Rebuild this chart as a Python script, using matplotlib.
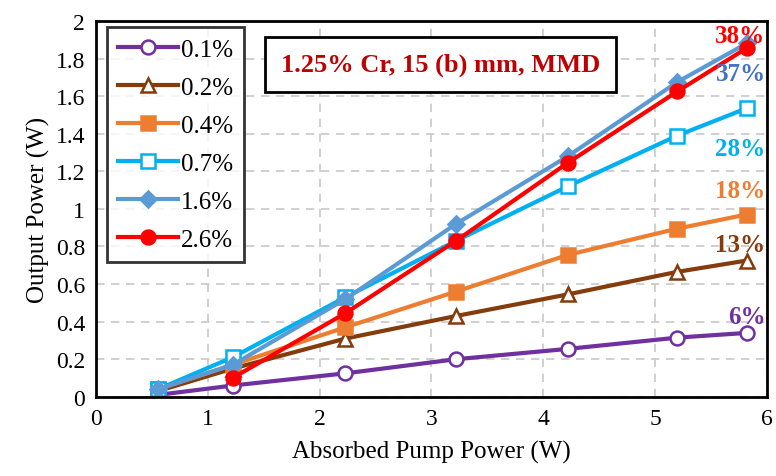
import matplotlib
matplotlib.use("Agg")
import matplotlib.pyplot as plt

plt.rcParams["font.family"] = ["Liberation Serif", "DejaVu Serif"]

# absorbed pump power (W)
pump = [0.55, 1.22, 2.23, 3.22, 4.22, 5.2, 5.82]

labels = ["0.1%", "0.2%", "0.4%", "0.7%", "1.6%", "2.6%"]
out_01 = [0.01, 0.06, 0.125, 0.20, 0.255, 0.315, 0.34]
out_02 = [0.03, 0.15, 0.31, 0.43, 0.545, 0.665, 0.725]
out_04 = [0.04, 0.17, 0.37, 0.56, 0.755, 0.895, 0.97]
out_07 = [0.04, 0.21, 0.53, 0.83, 1.12, 1.39, 1.535]
out_16 = [0.04, 0.17, 0.52, 0.92, 1.28, 1.675, 1.88]
out_26 = [None, 0.10, 0.445, 0.83, 1.245, 1.625, 1.855]

slopes = ["6%", "13%", "18%", "28%", "37%", "38%"]
slope_y = [0.43, 0.81, 1.10, 1.32, 1.72, 1.92]
slope_colors = ["#7030A0", "#843C0C", "#ED7D31", "#00B0F0", "#4472C4", "#FF0000"]

colors = ["#7030A0", "#843C0C", "#ED7D31", "#00B0F0", "#5B9BD5", "#FF0000"]
markers = ["o", "^", "s", "s", "D", "o"]
faces = ["white", "white", "#ED7D31", "white", "#5B9BD5", "#FF0000"]
sizes = [10, 10, 10, 10, 8, 10]

fig = plt.figure(figsize=(7.76, 4.77), dpi=100)
ax = fig.add_axes([0.124, 0.166, 0.864, 0.788])

series = [out_01, out_02, out_04, out_07, out_16, out_26]
for ys, lab, c, m, fc, ms in zip(series, labels, colors, markers, faces, sizes):
    xs = [x for x, y in zip(pump, ys) if y is not None]
    yv = [y for y in ys if y is not None]
    ax.plot(xs, yv, color=c, lw=3, marker=m, ms=ms, mfc=fc, mec=c,
            mew=1.8, label=lab)

for s, y, c in zip(slopes, slope_y, slope_colors):
    ax.text(5.99, y, s, color=c, fontsize=18, fontweight="bold",
            ha="right", va="center")

ax.text(3.08, 1.77, "1.25% Cr, 15 (b) mm, MMD", color="#C00000",
        fontsize=19, fontweight="bold", ha="center", va="center",
        bbox=dict(boxstyle="square,pad=0.6", fc="white", ec="black", lw=2))

ax.set_xlim(0, 6)
ax.set_ylim(0, 2)
ax.set_xticks(range(0, 7))
ax.set_yticks([i * 0.2 for i in range(11)])
ax.set_yticklabels(["0", "0.2", "0.4", "0.6", "0.8", "1", "1.2", "1.4",
                    "1.6", "1.8", "2"])
ax.tick_params(labelsize=17, length=0, pad=8)
ax.grid(True, ls=(0, (5, 4)), color="#c8c8c8", lw=1.2)
for sp in ax.spines.values():
    sp.set_linewidth(2)
ax.set_xlabel("Absorbed Pump Power (W)", fontsize=18, labelpad=8)
ax.set_ylabel("Output Power (W)", fontsize=18)

leg = ax.legend(loc="upper left", fontsize=18, frameon=True, fancybox=False,
                edgecolor="black", handlelength=2.4, handletextpad=0.1,
                labelspacing=0.62, borderpad=0.45, borderaxespad=0,
                bbox_to_anchor=(0.016, 0.984))
leg.get_frame().set_linewidth(2)

fig.savefig("out.png", dpi=100)
